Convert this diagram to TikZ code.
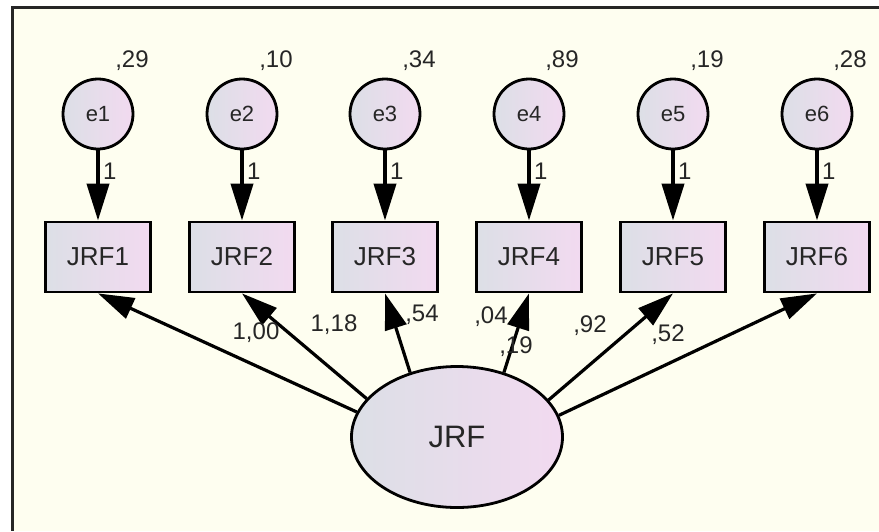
\documentclass[tikz,border=0pt]{standalone}
\usepackage{fontspec}
\setmainfont{Liberation Sans}
\usetikzlibrary{shapes.geometric,arrows.meta}
\definecolor{paper}{HTML}{FEFEF0}
\definecolor{shadeL}{HTML}{DCDFE6}
\definecolor{shadeR}{HTML}{F2DAF0}
\definecolor{ink}{HTML}{262626}
\newcommand{\fsz}[1]{\fontsize{#1}{#1}\selectfont}
\begin{document}
\begin{tikzpicture}[x=1pt, y=-1pt]
    \tikzset{err node/.style={circle,draw,line width=2.8pt,left color=shadeL,right color=shadeR,minimum size=70pt,inner sep=0pt,text=ink,font=\fsz{22}},
      obs node/.style={rectangle,draw,line width=2.8pt,left color=shadeL,right color=shadeR,minimum width=105pt,minimum height=70pt,inner sep=0pt,text=ink,font=\fsz{26}},
      lat node/.style={ellipse,draw,line width=2.8pt,left color=shadeL,right color=shadeR,minimum width=211pt,minimum height=141pt,inner sep=0pt,text=ink,font=\fsz{31}},
      num/.style={inner sep=0pt,text=ink,font=\fsz{24}},
      err arrow/.style={line width=4pt,-{Triangle[length=37pt,width=22pt]}},
      load arrow/.style={line width=3.2pt,-{Triangle[length=36pt,width=22pt]}}}

    % Page and frame
    \useasboundingbox (0,0) rectangle (879,531);
    \fill[white] (0,0) rectangle (879,531);
    \fill[paper] (12,7) rectangle (879,531);
    \draw[line width=3pt, ink] (879,7) -- (12,7) -- (12,531);

    % Error terms
    \node[err node] (e1) at (98, 114) {e1};
    \node[err node] (e2) at (242, 114) {e2};
    \node[err node] (e3) at (385, 114) {e3};
    \node[err node] (e4) at (529, 114) {e4};
    \node[err node] (e5) at (673, 114) {e5};
    \node[err node] (e6) at (817, 114) {e6};

    % Observed items
    \node[obs node] (jrf1) at (98, 257) {JRF1};
    \node[obs node] (jrf2) at (242, 257) {JRF2};
    \node[obs node] (jrf3) at (385, 257) {JRF3};
    \node[obs node] (jrf4) at (529, 257) {JRF4};
    \node[obs node] (jrf5) at (673, 257) {JRF5};
    \node[obs node] (jrf6) at (817, 257) {JRF6};

    % Latent factor
    \node[lat node] (jrf) at (457, 437) {JRF};

    % Variances of the errors
    \node[num] (v1) at (132, 61) {,29};
    \node[num] (v2) at (276, 61) {,10};
    \node[num] (v3) at (419, 61) {,34};
    \node[num] (v4) at (562, 61) {,89};
    \node[num] (v5) at (707, 61) {,19};
    \node[num] (v6) at (850, 61) {,28};

    % Error paths, fixed to 1
    \draw[err arrow] (e1) -- (jrf1) node[num, pos=0.3, right=3pt] {1};
    \draw[err arrow] (e2) -- (jrf2) node[num, pos=0.3, right=3pt] {1};
    \draw[err arrow] (e3) -- (jrf3) node[num, pos=0.3, right=3pt] {1};
    \draw[err arrow] (e4) -- (jrf4) node[num, pos=0.3, right=3pt] {1};
    \draw[err arrow] (e5) -- (jrf5) node[num, pos=0.3, right=3pt] {1};
    \draw[err arrow] (e6) -- (jrf6) node[num, pos=0.3, right=3pt] {1};

    % Loadings
    \draw[load arrow] (jrf.166.8) -- (jrf1.south);
    \draw[load arrow] (jrf.157.5) -- (jrf2.south);
    \draw[load arrow] (jrf.126) -- (jrf3.south);
    \draw[load arrow] (jrf.54.7) -- (jrf4.south);
    \draw[load arrow] (jrf.22.3) -- (jrf5.south);
    \draw[load arrow] (jrf.12.9) -- (jrf6.south);

    \node[num] (l1) at (256, 333) {1,00};
    \node[num] (l2) at (334, 325) {1,18};
    \node[num] (l3) at (422, 315) {,54};
    \node[num] (l4) at (491, 317) {,04};
    \node[num] (l5) at (516, 347) {,19};
    \node[num] (l6) at (590, 326) {,92};
    \node[num] (l7) at (668, 335) {,52};
\end{tikzpicture}
\end{document}
